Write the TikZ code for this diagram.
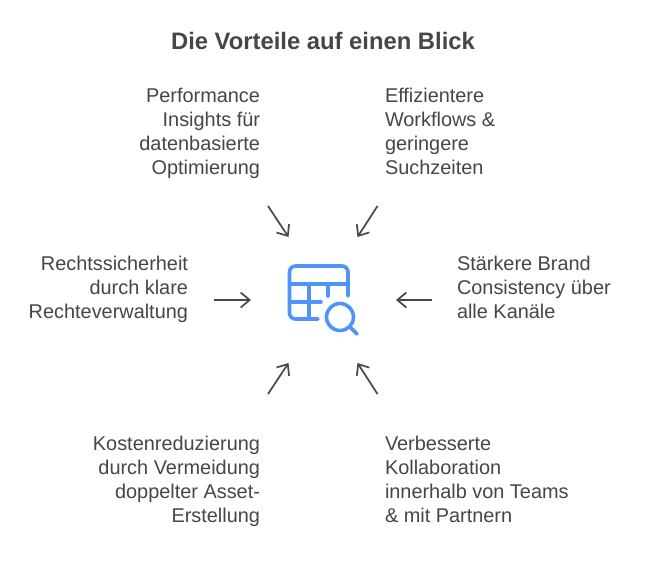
\documentclass[tikz,border=0pt]{standalone}
\usepackage{fontspec}
\setmainfont{Liberation Sans}
\usetikzlibrary{arrows.meta}
\definecolor{txt}{HTML}{464646}
\definecolor{arrowc}{HTML}{474747}
\definecolor{iconb}{HTML}{4F94FA}
\tikzset{
  x=1pt,y=-1pt,
  lbl/.style={text=txt,font=\fontsize{19.9}{24}\selectfont,inner sep=0pt,outer sep=0pt},
  lblR/.style={lbl,align=right,anchor=north east},
  lblL/.style={lbl,align=left,anchor=north west},
  flow/.style={draw=arrowc,line width=1.7pt,-{Straight Barb[length=9pt,width=15pt,line width=1.7pt]}},
  icon/.style={draw=iconb,line width=3.6pt,line cap=round,line join=round},
}
\begin{document}
\begin{tikzpicture}
\useasboundingbox[fill=white] (0,0) rectangle (648,560);
\node[text=txt,font=\fontsize{23.8}{28}\selectfont\bfseries,inner sep=0pt] (title) at (323,40.5) {Die Vorteile auf einen Blick};
\node[lblR] (perf) at (260,88.5) {Performance\\Insights für\\datenbasierte\\Optimierung};
\node[lblL] (work) at (385,88.5) {Effizientere\\Workflows \&\\geringere\\Suchzeiten};
\node[lblR] (recht) at (188,256.5) {Rechtssicherheit\\durch klare\\Rechteverwaltung};
\node[lblL] (brand) at (457,256.5) {Stärkere Brand\\Consistency über\\alle Kanäle};
\node[lblR] (kosten) at (260,436.5) {Kostenreduzierung\\durch Vermeidung\\doppelter Asset-\\Erstellung};
\node[lblL] (kolla) at (385,436.5) {Verbesserte\\Kollaboration\\innerhalb von Teams\\\& mit Partnern};
% icon
\draw[icon,rounded corners=6pt] (318,319)--(289.5,319)--(289.5,266)--(348,266)--(348,296);
\draw[icon] (289.5,284)--(348,284);
\draw[icon] (309,284)--(309,319);
\draw[icon] (328,284)--(328,296);
\draw[icon] (289.5,302)--(321,302);
\node[circle,icon,minimum size=27pt,inner sep=0pt] (lens) at (340,317) {};
\draw[icon] (lens.-45)--(357,334);
% connectors
\coordinate (a1s) at (268,206); \coordinate (a1e) at (288.5,237);
\coordinate (a2s) at (377.5,206); \coordinate (a2e) at (357.5,237);
\coordinate (a3s) at (214,300); \coordinate (a3e) at (251,300);
\coordinate (a4s) at (432,300); \coordinate (a4e) at (396,300);
\coordinate (a5s) at (268,394); \coordinate (a5e) at (288.5,363);
\coordinate (a6s) at (377.5,394); \coordinate (a6e) at (357.5,363);
\draw[flow] (a1s)--(a1e);
\draw[flow] (a2s)--(a2e);
\draw[flow] (a3s)--(a3e);
\draw[flow] (a4s)--(a4e);
\draw[flow] (a5s)--(a5e);
\draw[flow] (a6s)--(a6e);
\end{tikzpicture}
\end{document}
